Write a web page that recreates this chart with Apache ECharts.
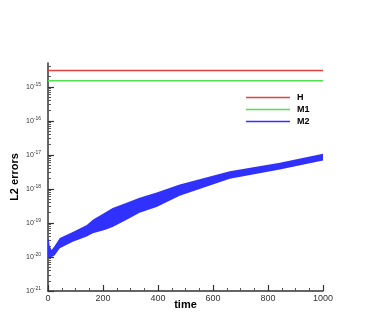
<!DOCTYPE html>
<html>
<head>
<meta charset="utf-8">
<script src="https://cdn.jsdelivr.net/npm/echarts@6/dist/echarts.min.js"></script>
<style>html,body{margin:0;padding:0;background:#fff}#c{width:368px;height:327px}</style>
</head>
<body>
<div id="c"></div>
<script>
// ---- data ----
var hTime = [0, 1000];
var hValues = [3e-15, 3e-15];
var m1Time = [0, 1000];
var m1Values = [1.5e-15, 1.5e-15];
// M2: oscillating band, upper and lower envelopes
var m2Time  = [0, 3, 6, 13, 24, 43, 90, 141, 163, 206, 235, 286, 333, 395, 479, 661, 843, 1000];
var m2Upper = [3.6e-20, 3.2e-20, 2.1e-20, 1.6e-20, 2.1e-20, 3.6e-20, 5.4e-20, 8.7e-20, 1.23e-19, 2.0e-19, 2.75e-19, 3.9e-19, 5.5e-19, 7.8e-19, 1.35e-18, 3.3e-18, 5.9e-18, 1.07e-17];
var m2Lower = [9.3e-21, 9.5e-21, 1.0e-20, 1.0e-20, 1.1e-20, 1.8e-20, 2.8e-20, 4.0e-20, 5.0e-20, 6.2e-20, 7.6e-20, 1.23e-19, 2.0e-19, 2.95e-19, 6.3e-19, 2.0e-18, 3.7e-18, 6.8e-18];
var xTicks = [0, 200, 400, 600, 800, 1000];
var yMajorExp = [-21, -20, -19, -18, -17, -16, -15];

var FONT = 'Liberation Sans';
var majorVals = yMajorExp.map(function (e) { return Math.pow(10, e); });
var minorVals = [];
yMajorExp.forEach(function (e) {
  for (var k = 2; k <= 9; k++) {
    var v = k * Math.pow(10, e);
    if (v <= 5.0001e-15) minorVals.push(v);
  }
});

var chart = echarts.init(document.getElementById('c'));
var option = {
  animation: false,
  backgroundColor: '#fff',
  grid: { left: 48, right: 45, top: 63, bottom: 36, containLabel: false, outerBoundsMode: 'none' },
  legend: {
    orient: 'vertical',
    left: 241, top: 88,
    itemWidth: 44, itemHeight: 1.5, itemGap: 3,
    icon: 'rect',
    textStyle: { fontFamily: FONT, fontWeight: 'bold', fontSize: 9, color: '#000', lineHeight: 9, padding: [0, 0, 0, 2] },
    data: [
      { name: 'H', itemStyle: { color: '#e04040' } },
      { name: 'M1', itemStyle: { color: '#50e050' } },
      { name: 'M2', itemStyle: { color: '#3030ff' } }
    ]
  },
  xAxis: {
    type: 'value', min: 0, max: 1000, interval: 200,
    name: 'time', nameLocation: 'middle', nameGap: 8, nameMoveOverlap: false,
    nameTextStyle: { fontFamily: FONT, fontWeight: 'bold', fontSize: 11, color: '#000', verticalAlign: 'top' },
    axisLine: { show: true, onZero: false, lineStyle: { color: '#333', width: 1.5 } },
    axisTick: { show: true, inside: true, length: 6, lineStyle: { color: '#333', width: 1.2 } },
    minorTick: { show: true, splitNumber: 4, length: 3, lineStyle: { color: '#555', width: 1 } },
    axisLabel: { fontFamily: FONT, fontSize: 9, color: '#333', margin: 3,
      customValues: xTicks, formatter: function (v) { return String(v); } },
    splitLine: { show: false }
  },
  yAxis: [{
    type: 'log', logBase: 10, min: 1e-21, max: 5e-15,
    name: 'L2 errors', nameLocation: 'middle', nameGap: 28, nameRotate: 90, nameMoveOverlap: false,
    nameTextStyle: { fontFamily: FONT, fontWeight: 'bold', fontSize: 11, color: '#000' },
    axisLine: { show: true, lineStyle: { color: '#333', width: 1.5 } },
    axisTick: { show: true, inside: true, length: 6, customValues: majorVals, lineStyle: { color: '#333', width: 1.2 } },
    axisLabel: {
      customValues: majorVals, margin: 7,
      fontFamily: FONT, fontSize: 7, color: '#333',
      formatter: function (v) { return '10{s|' + Math.round(Math.log10(v)) + '}'; },
      rich: { s: { fontFamily: FONT, fontSize: 5, color: '#333', verticalAlign: 'top', padding: [0, 0, 4, 0] } }
    },
    splitLine: { show: false }
  }, {
    type: 'log', logBase: 10, min: 1e-21, max: 5e-15, position: 'left', offset: 0,
    axisLine: { show: false },
    axisTick: { show: true, inside: true, length: 3, customValues: minorVals, lineStyle: { color: '#555', width: 1 } },
    axisLabel: { show: false },
    splitLine: { show: false }
  }],
  series: [
    {
      name: 'M2', type: 'custom', coordinateSystem: 'cartesian2d', z: 2,
      itemStyle: { color: '#3030ff' },
      data: m2Time.map(function (t, i) { return [t, m2Upper[i], m2Lower[i]]; }),
      encode: { x: 0, y: [1, 2] },
      renderItem: function (params, api) {
        if (params.dataIndex !== 0) return null;
        var pts = [];
        for (var i = 0; i < m2Time.length; i++) pts.push(api.coord([m2Time[i], m2Upper[i]]));
        for (var j = m2Time.length - 1; j >= 0; j--) pts.push(api.coord([m2Time[j], m2Lower[j]]));
        return { type: 'polygon', shape: { points: pts }, style: { fill: '#3030ff', stroke: null } };
      }
    },
    {
      name: 'H', type: 'line', symbol: 'none', z: 3,
      data: hTime.map(function (t, i) { return [t, hValues[i]]; }),
      lineStyle: { color: '#e04040', width: 1.5 }, itemStyle: { color: '#e04040' }
    },
    {
      name: 'M1', type: 'line', symbol: 'none', z: 3,
      data: m1Time.map(function (t, i) { return [t, m1Values[i]]; }),
      lineStyle: { color: '#50e050', width: 1.5 }, itemStyle: { color: '#50e050' }
    }
  ]
};
chart.setOption(option);
</script>
</body>
</html>
